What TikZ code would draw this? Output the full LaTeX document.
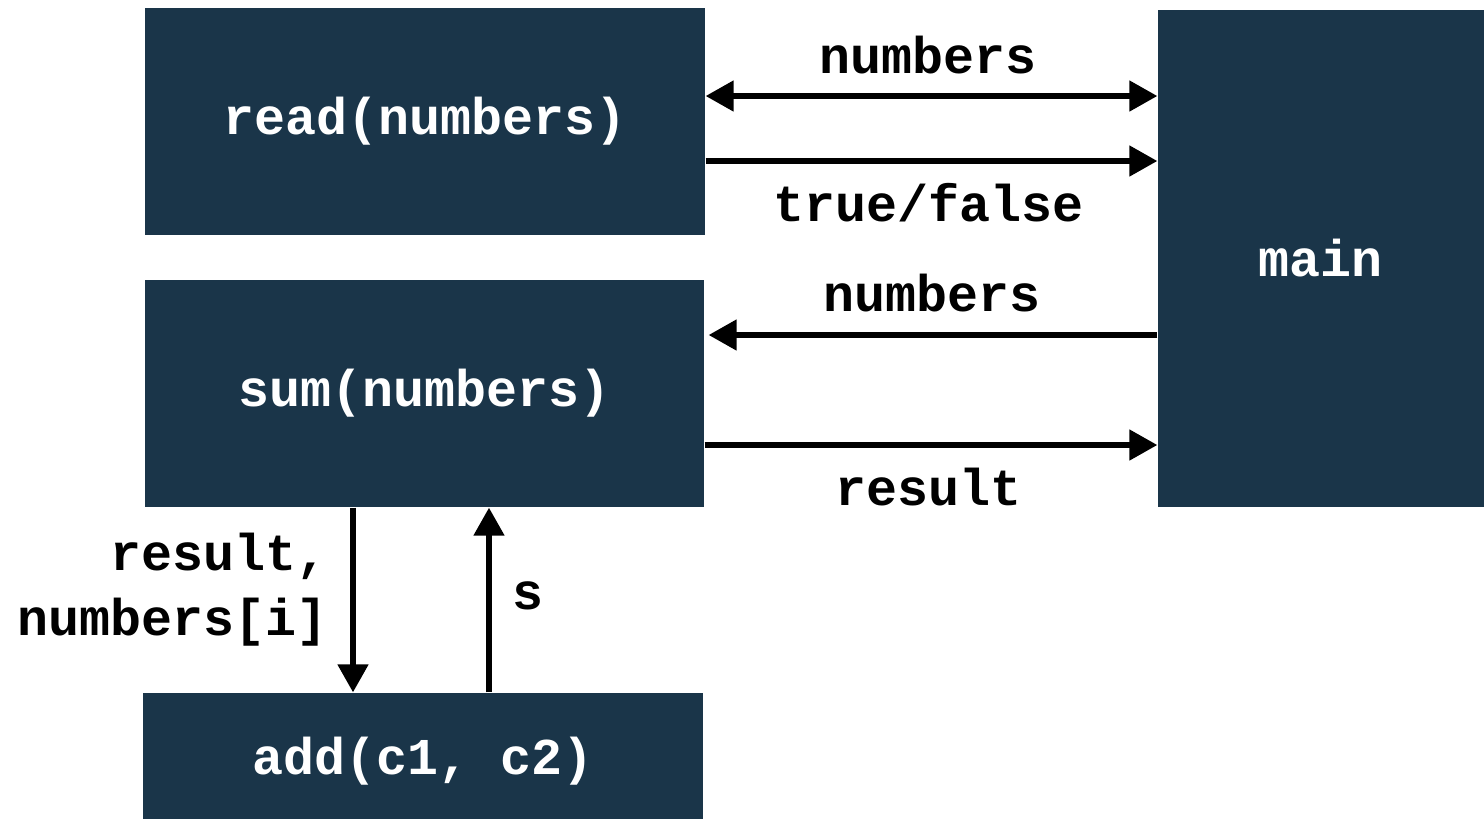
\documentclass[tikz,border=0pt]{standalone}
\usepackage{fontspec}
\setmonofont{Liberation Mono}
\usepackage{tikz}
\usetikzlibrary{arrows.meta}
\definecolor{boxblue}{HTML}{1A3549}

\begin{document}
\begin{tikzpicture}[x=0.1mm,y=-0.1mm,
		func/.style={rectangle,fill=boxblue,text=white,inner sep=0pt,font=\fontsize{14.7}{18.5}\selectfont\ttfamily\bfseries},
		lbl/.style={inner sep=0pt,font=\fontsize{14.7}{18.5}\selectfont\ttfamily\bfseries},
		link/.style={line width=1.45pt,-{Triangle[length=2.8mm,width=3mm]}}]
		\useasboundingbox (0,0) rectangle (1484,818);
%		\draw[help lines,step=100] (0,0) grid (1484,818);
		\path (0,96) coordinate (lvl_num);
		\path (0,161) coordinate (lvl_tf);
		\path (0,335) coordinate (lvl_num2);
		\path (0,445) coordinate (lvl_res);
		\path (353,0) coordinate (col_down);
		\path (489,0) coordinate (col_up);

		\path (425,121.5) node(read) [func,minimum width=56mm,minimum height=22.7mm] {read(numbers)};
		\path (424.5,393.5) node(sum) [func,minimum width=55.9mm,minimum height=22.7mm] {sum(numbers)};
		\path (423,761) node(add) [func,minimum width=56mm,minimum height=13.6mm] {add(c1, c2)};
		\path (1321,258.5) node(main) [func,minimum width=32.6mm,minimum height=49.7mm] {main};

		\draw[link,{Triangle[length=2.8mm,width=3mm]}-{Triangle[length=2.8mm,width=3mm]}] (read.east |- lvl_num) -- (main.west |- lvl_num);
		\draw[link] (read.east |- lvl_tf) -- (main.west |- lvl_tf);
		\draw[link] (main.west |- lvl_num2) -- ([xshift=0.4mm]sum.east |- lvl_num2);
		\draw[link] (sum.east |- lvl_res) -- (main.west |- lvl_res);
		\draw[link] (col_down |- sum.south) -- (col_down |- add.north);
		\draw[link] (col_up |- add.north) -- (col_up |- sum.south);

		\path (928,55) node(l_num) [lbl] {numbers};
		\path (929,203) node(l_tf) [lbl] {true/false};
		\path (932,293) node(l_num2) [lbl] {numbers};
		\path (929,487) node(l_res) [lbl] {result};
		\path (328,590) node(l_args) [lbl,anchor=east,align=right] {result,\\numbers[i]};
		\path (528,596) node(l_s) [lbl] {s};
	\end{tikzpicture}
\end{document}
